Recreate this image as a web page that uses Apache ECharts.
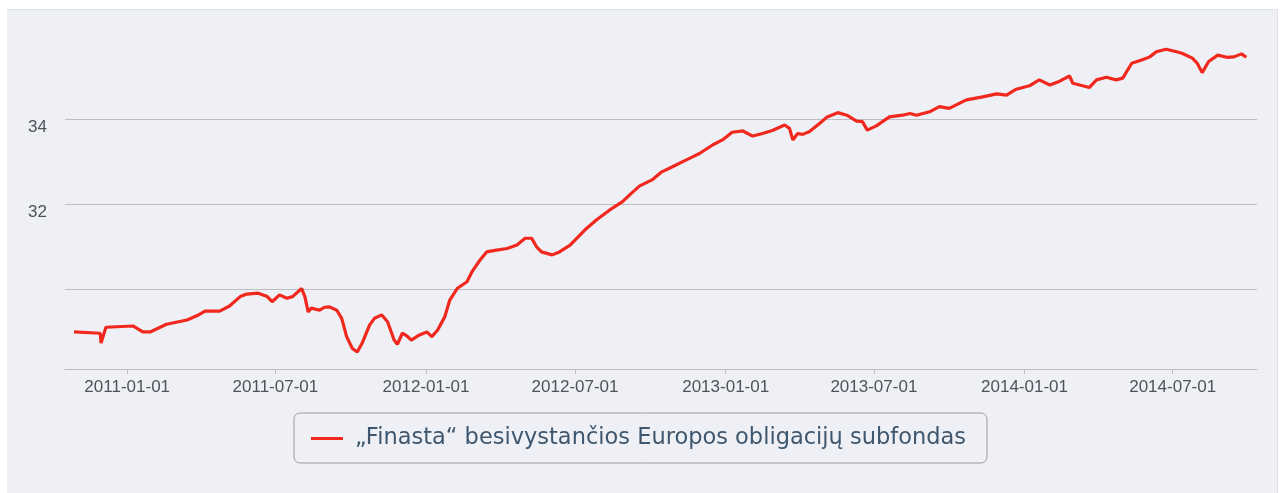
<!DOCTYPE html>
<html>
<head>
<meta charset="utf-8">
<script src="https://cdn.jsdelivr.net/npm/echarts@6/dist/echarts.min.js"></script>
<style>
html,body{margin:0;padding:0;background:#ffffff;width:1285px;height:493px;overflow:hidden;}
#panel{position:absolute;left:7px;top:9px;width:1270px;height:484px;background:#eef0f5;border-top:1px solid #dde1ea;border-right:1px solid #dde1ea;}
#chart{position:absolute;left:0;top:0;width:1285px;height:493px;}
</style>
</head>
<body>
<div id="panel"></div>
<div id="chart"></div>
<script>
const seriesName = '„Finasta“ besivystančios Europos obligacijų subfondas';
const dates = ['2010-10-28','2010-11-29','2010-11-30','2010-12-06','2011-01-08','2011-01-20','2011-01-29','2011-02-18','2011-03-15','2011-03-27','2011-04-06','2011-04-24','2011-05-06','2011-05-19','2011-05-27','2011-06-10','2011-06-21','2011-06-27','2011-07-06','2011-07-15','2011-07-22','2011-08-02','2011-08-06','2011-08-10','2011-08-14','2011-08-24','2011-08-30','2011-09-05','2011-09-14','2011-09-20','2011-09-26','2011-10-03','2011-10-09','2011-10-15','2011-10-24','2011-10-30','2011-11-08','2011-11-15','2011-11-23','2011-11-27','2011-12-03','2011-12-09','2011-12-14','2011-12-24','2012-01-02','2012-01-08','2012-01-15','2012-01-24','2012-01-30','2012-02-08','2012-02-20','2012-02-26','2012-03-07','2012-03-15','2012-03-27','2012-04-09','2012-04-21','2012-05-01','2012-05-09','2012-05-15','2012-05-21','2012-06-03','2012-06-12','2012-06-25','2012-07-03','2012-07-15','2012-07-27','2012-08-12','2012-08-28','2012-09-08','2012-09-18','2012-10-03','2012-10-15','2012-10-28','2012-11-14','2012-11-30','2012-12-16','2012-12-28','2013-01-09','2013-01-22','2013-02-03','2013-02-15','2013-02-27','2013-03-14','2013-03-20','2013-03-24','2013-03-30','2013-04-05','2013-04-13','2013-04-26','2013-05-05','2013-05-18','2013-05-29','2013-06-10','2013-06-17','2013-06-23','2013-07-04','2013-07-20','2013-08-05','2013-08-14','2013-08-22','2013-09-07','2013-09-19','2013-10-01','2013-10-22','2013-11-11','2013-11-28','2013-12-10','2013-12-22','2014-01-07','2014-01-19','2014-02-01','2014-02-13','2014-02-25','2014-03-01','2014-03-13','2014-03-21','2014-03-30','2014-04-11','2014-04-23','2014-05-01','2014-05-12','2014-05-25','2014-06-03','2014-06-11','2014-06-23','2014-07-06','2014-07-13','2014-07-25','2014-07-31','2014-08-06','2014-08-14','2014-08-25','2014-09-05','2014-09-14','2014-09-23','2014-09-29'];
const values = [29.00,28.97,28.74,29.11,29.14,29.00,29.00,29.18,29.28,29.38,29.49,29.49,29.61,29.83,29.89,29.91,29.83,29.71,29.87,29.79,29.83,30.02,29.83,29.47,29.56,29.51,29.58,29.59,29.51,29.32,28.89,28.61,28.53,28.74,29.16,29.32,29.40,29.24,28.81,28.71,28.97,28.90,28.81,28.93,29.00,28.89,29.04,29.36,29.75,30.02,30.18,30.41,30.69,30.88,30.92,30.96,31.04,31.20,31.20,31.00,30.88,30.81,30.88,31.04,31.20,31.43,31.63,31.86,32.06,32.26,32.43,32.57,32.76,32.88,33.04,33.19,33.39,33.51,33.69,33.72,33.60,33.66,33.73,33.86,33.78,33.51,33.66,33.64,33.70,33.90,34.05,34.15,34.09,33.95,33.94,33.74,33.84,34.05,34.09,34.13,34.09,34.17,34.29,34.25,34.45,34.52,34.59,34.56,34.70,34.78,34.92,34.80,34.89,35.01,34.84,34.78,34.74,34.92,34.98,34.92,34.96,35.31,35.39,35.46,35.58,35.64,35.58,35.54,35.43,35.31,35.09,35.35,35.50,35.45,35.46,35.53,35.45];
const xTickLabels = ['2011-01-01','2011-07-01','2012-01-01','2012-07-01','2013-01-01','2013-07-01','2014-01-01','2014-07-01'];
const yLabelValues = [32, 34];
const xMin = '2010-10-17';
const xMax = '2014-10-12';
const yMin = 28.13;
const yMax = 35.95;

function parseLocal(s) {
  const p = s.split('-').map(Number);
  return new Date(p[0], p[1] - 1, p[2]).getTime();
}
const xTickValues = xTickLabels.map(parseLocal);
function pad(n) { return (n < 10 ? '0' : '') + n; }
function fmtDate(v) {
  const d = new Date(v);
  return d.getFullYear() + '-' + pad(d.getMonth() + 1) + '-' + pad(d.getDate());
}

const chart = echarts.init(document.getElementById('chart'), null, {renderer: 'canvas'});
chart.setOption({
  animation: false,
  backgroundColor: 'transparent',
  grid: {left: 65, right: 28, top: 36, bottom: 124, containLabel: false},
  xAxis: {
    type: 'value',
    min: parseLocal(xMin),
    max: parseLocal(xMax),
    scale: true,
    axisLine: {show: true, lineStyle: {color: '#bcbec4', width: 1}},
    axisTick: {show: true, length: 5, customValues: xTickValues, lineStyle: {color: '#bcbec4'}},
    axisLabel: {
      show: true,
      customValues: xTickValues,
      formatter: function (v) { return fmtDate(v); },
      color: '#4f5258',
      fontFamily: 'Liberation Sans, Arial, sans-serif',
      fontSize: 17,
      margin: 10
    },
    splitLine: {show: false}
  },
  yAxis: {
    type: 'value',
    min: yMin,
    max: yMax,
    splitNumber: 4,
    axisLine: {show: false},
    axisTick: {show: false},
    axisLabel: {
      formatter: function (v) { return yLabelValues.indexOf(Math.round(v * 1000) / 1000) >= 0 ? String(Math.round(v)) : ''; },
      color: '#4f5258',
      fontFamily: 'Liberation Sans, Arial, sans-serif',
      fontSize: 17,
      margin: 18,
      verticalAlign: 'top'
    },
    splitLine: {show: true, showMaxLine: false, lineStyle: {color: '#bcbec4', width: 1}}
  },
  legend: {
    show: true,
    left: 294,
    top: 413,
    data: [seriesName],
    icon: 'rect',
    itemWidth: 32,
    itemHeight: 3,
    itemGap: 10,
    padding: [12, 21, 11, 17],
    borderColor: '#9a9ca2',
    borderWidth: 1,
    borderRadius: 6,
    textStyle: {
      color: '#3e576f',
      fontFamily: 'DejaVu Sans, Verdana, sans-serif',
      fontSize: 22.5,
      lineHeight: 27,
      padding: [0, 0, 0, 7]
    }
  },
  series: [{
    name: seriesName,
    type: 'line',
    data: dates.map(function (d, i) { return [parseLocal(d), values[i]]; }),
    showSymbol: false,
    symbol: 'none',
    lineStyle: {color: '#f0281e', width: 3.2},
    itemStyle: {color: '#f0281e'}
  }]
});
</script>
</body>
</html>
